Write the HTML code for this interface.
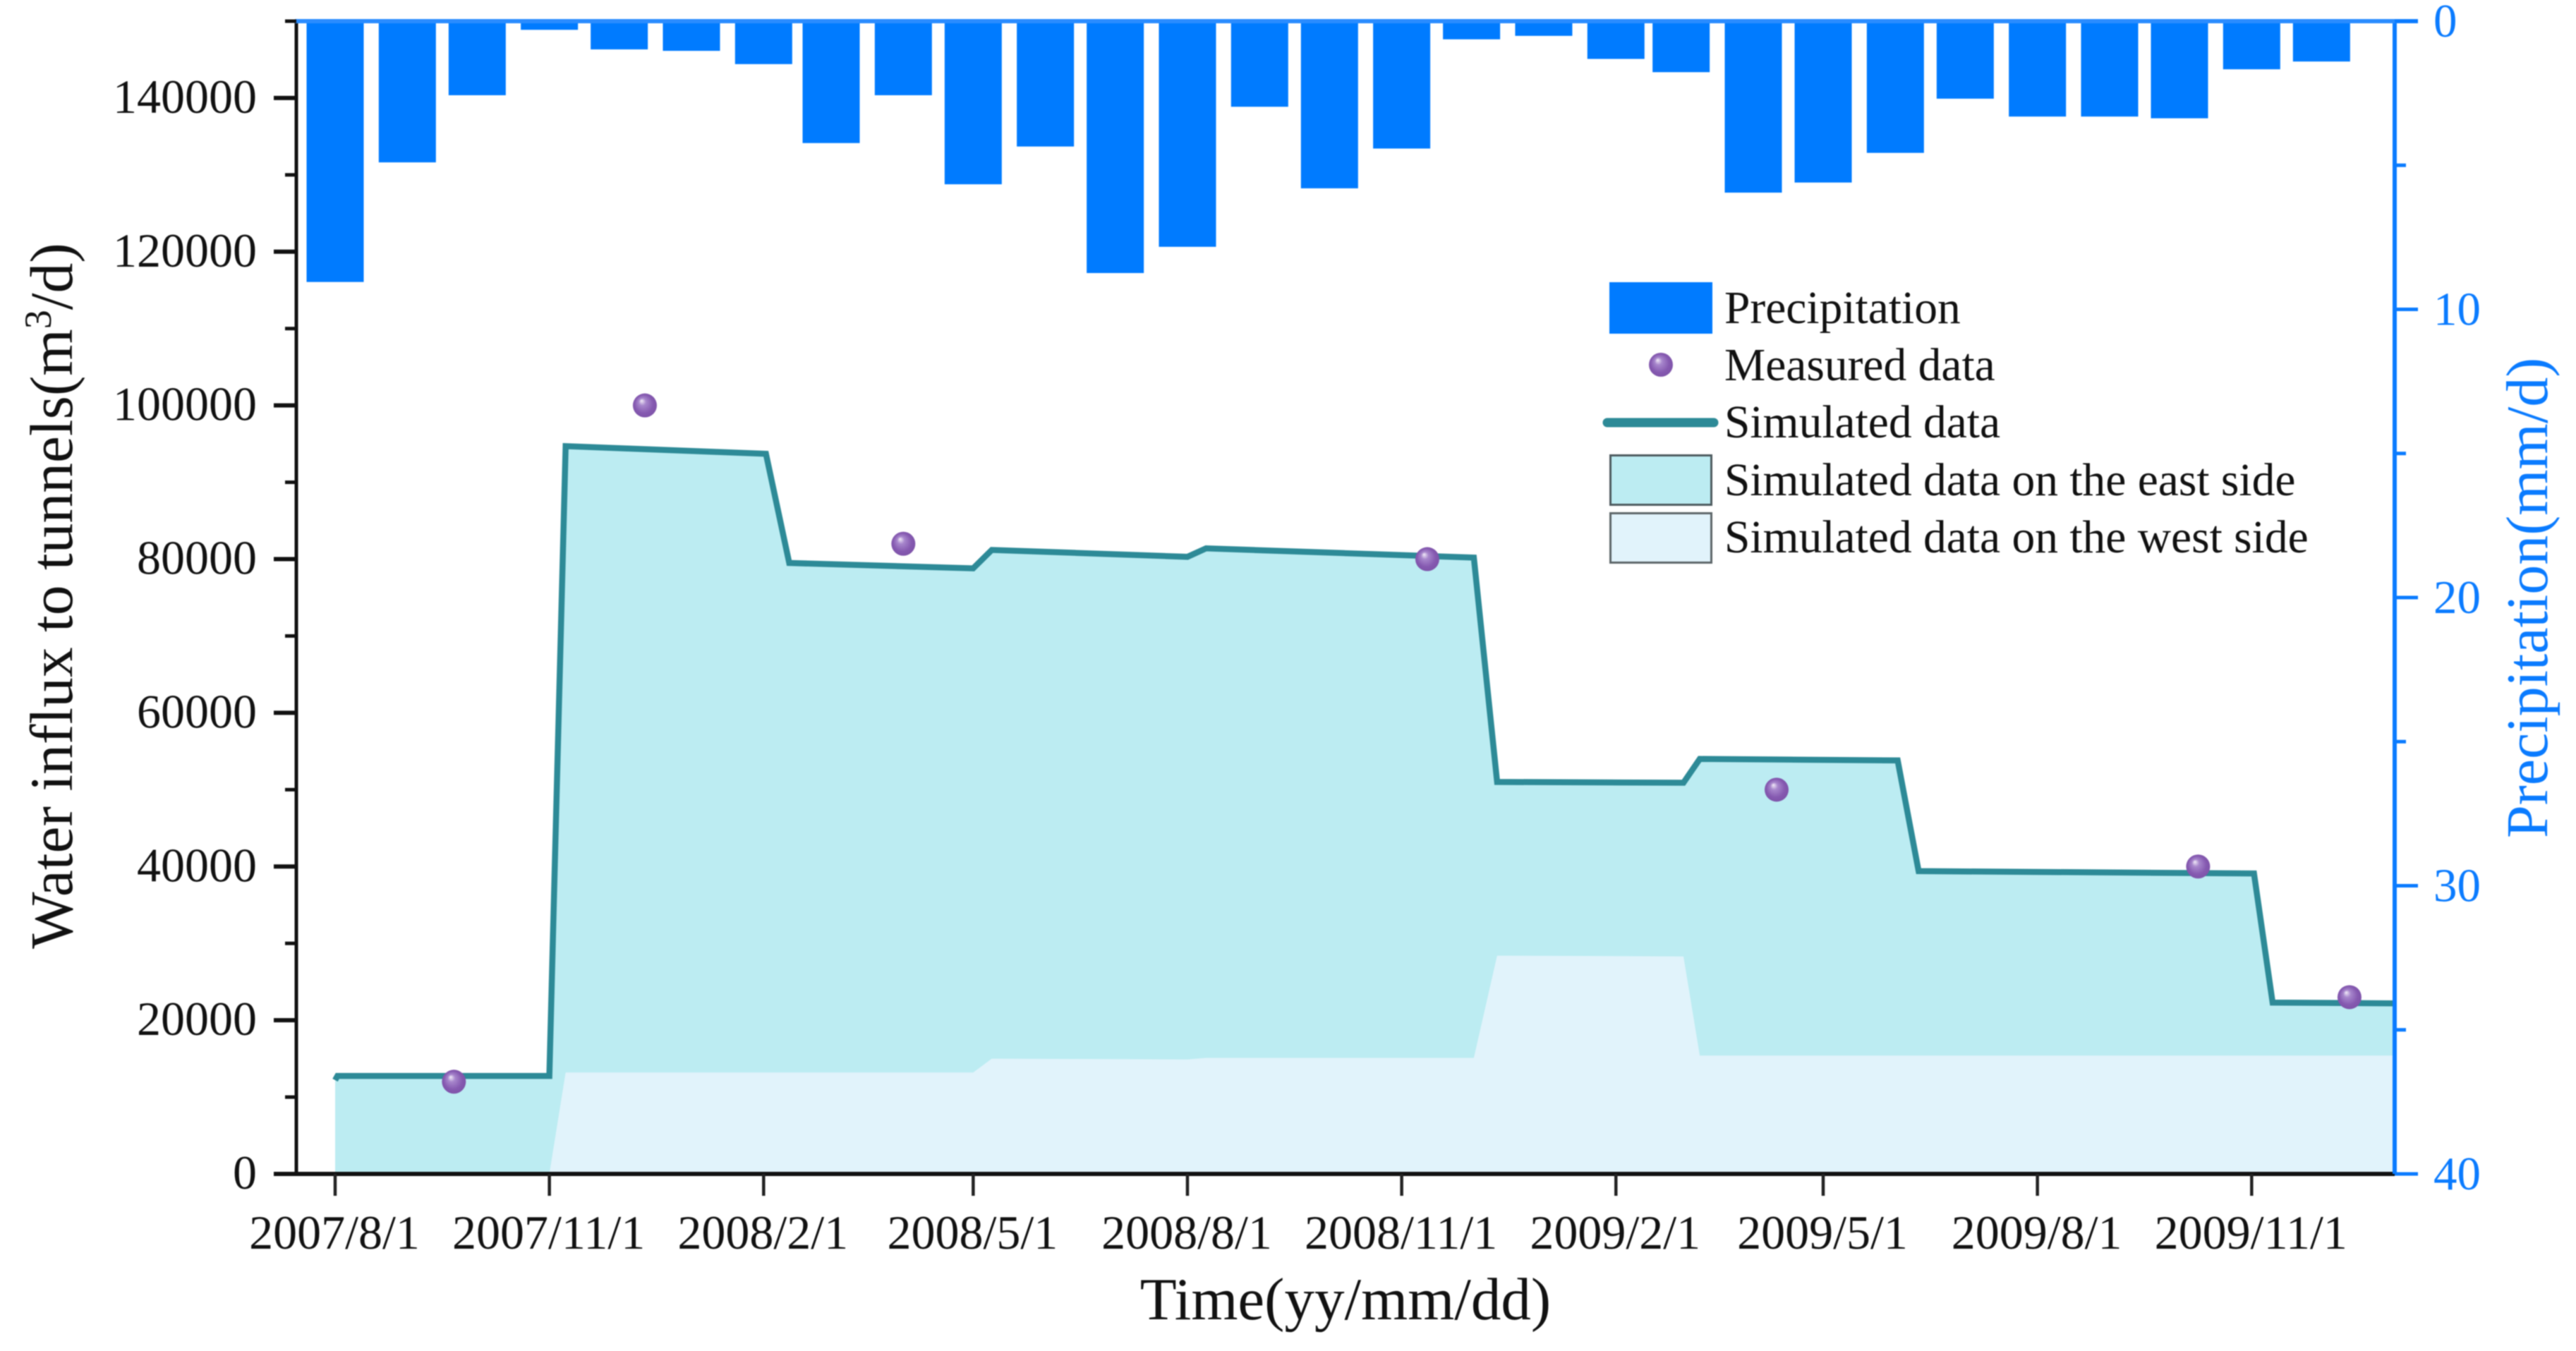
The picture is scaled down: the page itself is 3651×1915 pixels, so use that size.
<!DOCTYPE html>
<html lang="en">
<head>
<meta charset="utf-8">
<title>Water influx to tunnels and precipitation</title>
<style>
html,body{margin:0;padding:0;background:#fff;width:3651px;height:1915px;overflow:hidden}
svg{display:block;filter:blur(0.8px)}
text{font-family:"Liberation Serif",serif}
</style>
</head>
<body>
<svg id="chart" xmlns="http://www.w3.org/2000/svg" width="3651" height="1915" viewBox="0 0 3651 1915">
  <defs>
    <radialGradient id="ball" cx="0.5" cy="0.5" r="0.55" fx="0.36" fy="0.3">
      <stop offset="0" stop-color="#f2ecf8"/>
      <stop offset="0.28" stop-color="#a786cc"/>
      <stop offset="0.7" stop-color="#8559b0"/>
      <stop offset="1" stop-color="#7d52a8"/>
    </radialGradient>
  </defs>
  <g id="areas"></g>
  <g id="bars"></g>
  <g id="line"></g>
  <g id="axes"></g>
  <g id="dots"></g>

  <text x="1907" y="1870" font-size="85" text-anchor="middle" fill="#111">Time(yy/mm/dd)</text>
  <text transform="translate(102,1345) rotate(-90)" font-size="85.5" fill="#111">Water influx to tunnels(m<tspan font-size="54" dy="-30">3</tspan><tspan dy="30">/d)</tspan></text>
  <text transform="translate(3610,1188) rotate(-90)" font-size="84" fill="#0a7bff">Precipitation(mm/d)</text>

  <g>
    <rect x="2281" y="400" width="146" height="73" fill="#007bff"/>
    <text x="2444" y="458" font-size="65.5" fill="#111">Precipitation</text>
    <circle cx="2354" cy="517" r="17" fill="url(#ball)"/>
    <text x="2444" y="539" font-size="65.5" fill="#111">Measured data</text>
    <line x1="2278" y1="599" x2="2429" y2="599" stroke="#2d8a97" stroke-width="13" stroke-linecap="round"/>
    <text x="2444" y="620" font-size="65.5" fill="#111">Simulated data</text>
    <rect x="2282.5" y="645.5" width="143" height="70" fill="#bcecf2" stroke="#4d5a5e" stroke-width="3"/>
    <text x="2444" y="702" font-size="65.5" fill="#111">Simulated data on the east side</text>
    <rect x="2282.5" y="727.5" width="143" height="70" fill="#e1f3fb" stroke="#5d6669" stroke-width="3"/>
    <text x="2444" y="783" font-size="65.5" fill="#111">Simulated data on the west side</text>
  </g>
</svg>
<script>
// ---- chart data ----
const barDates = ['2007/8/1','2007/9/1','2007/10/1','2007/11/1','2007/12/1','2008/1/1','2008/2/1','2008/3/1','2008/4/1','2008/5/1','2008/6/1','2008/7/1','2008/8/1','2008/9/1','2008/10/1','2008/11/1','2008/12/1','2009/1/1','2009/2/1','2009/3/1','2009/4/1','2009/5/1','2009/6/1','2009/7/1','2009/8/1','2009/9/1','2009/10/1','2009/11/1','2009/12/1'];
const precipitation = [9.05,4.9,2.57,0.3,0.98,1.03,1.49,4.23,2.57,5.66,4.35,8.74,7.83,2.97,5.8,4.42,0.63,0.51,1.31,1.77,5.95,5.6,4.57,2.69,3.31,3.31,3.37,1.67,1.4];

const simDates = ['2007/8/1','2007/8/2','2007/11/1','2007/11/8','2008/2/2','2008/2/12','2008/5/1','2008/5/9','2008/8/1','2008/8/9','2008/12/2','2008/12/12','2009/3/2','2009/3/9','2009/6/2','2009/6/11','2009/11/2','2009/11/10','2010/1/1'];
const simulated = [12200,12750,12750,94700,93700,79500,78800,81200,80300,81400,80200,51000,50900,54000,53800,39400,39100,22300,22200];

const westDates = ['2007/11/1','2007/11/8','2008/5/1','2008/5/9','2008/8/1','2008/8/9','2008/12/2','2008/12/12','2009/3/2','2009/3/9','2010/1/1'];
const westSide = [0,13200,13200,15000,14900,15100,15100,28400,28300,15400,15400];

const measuredDates = ['2007/9/21','2007/12/12','2008/4/1','2008/11/12','2009/4/11','2009/10/9','2009/12/13'];
const measured = [12000,100000,82000,80000,50000,40000,23000];

const xTickLabels = ['2007/8/1','2007/11/1','2008/2/1','2008/5/1','2008/8/1','2008/11/1','2009/2/1','2009/5/1','2009/8/1','2009/11/1'];
const leftMajorTicks = [0,20000,40000,60000,80000,100000,120000,140000];
const leftMinorTicks = [10000,30000,50000,70000,90000,110000,130000,150000];
const rightMajorTicks = [0,10,20,30,40];
const rightMinorTicks = [5,15,25,35];

// ---- axis functions ----
const NS = 'http://www.w3.org/2000/svg';
const START = Date.UTC(2007, 7, 1);
const DAY = 86400000;
const AX = {left: 420, right: 3394, top: 30, bottom: 1664, x0: 475, pxPerDay: 3.3005};

function xScale(d) {
  const p = d.split('/').map(Number);
  return AX.x0 + (Date.UTC(p[0], p[1] - 1, p[2]) - START) / DAY * AX.pxPerDay;
}
function yLeft(v) { return AX.bottom - v / 150000 * (AX.bottom - AX.top); }
function yRight(v) { return AX.top + v / 40 * (AX.bottom - AX.top); }

function make(tag, parent, attrs, text) {
  const el = document.createElementNS(NS, tag);
  for (const k in attrs) el.setAttribute(k, attrs[k]);
  if (text !== undefined) el.textContent = text;
  document.getElementById(parent).appendChild(el);
  return el;
}

// ---- filled areas ----
const eastPoints = simDates.map((d, i) => xScale(d).toFixed(1) + ',' + yLeft(simulated[i]).toFixed(1));
const eastArea = make('polygon', 'areas', {
  points: xScale(simDates[0]).toFixed(1) + ',' + AX.bottom + ' ' + eastPoints.join(' ') + ' ' + xScale(simDates[simDates.length - 1]).toFixed(1) + ',' + AX.bottom,
  fill: '#bcecf2'
});



const westPoints = westDates.map((d, i) => xScale(d).toFixed(1) + ',' + yLeft(westSide[i]).toFixed(1));
const westArea = make('polygon', 'areas', {
  points: westPoints.join(' ') + ' ' + xScale(westDates[westDates.length - 1]).toFixed(1) + ',' + AX.bottom,
  fill: '#e1f3fb'
});



// ---- precipitation bars ----
precipitation.forEach((v, i) => {
  const bar = make('rect', 'bars', {
    x: xScale(barDates[i]) - 40.5,
    y: yRight(0),
    width: 81,
    height: yRight(v) - yRight(0),
    fill: '#007bff'
  });
  
  
});

// ---- simulated line ----
const simLine = make('polyline', 'line', {
  points: eastPoints.join(' '),
  fill: 'none',
  stroke: '#2d8a97',
  'stroke-width': 8.5,
  'stroke-linejoin': 'miter'
});



// ---- axes ----
const leftAxisLine = make('line', 'axes', {x1: AX.left, y1: AX.top - 2, x2: AX.left, y2: AX.bottom, stroke: '#111', 'stroke-width': 5});



const bottomAxisLine = make('line', 'axes', {x1: 388, y1: AX.bottom, x2: AX.right, y2: AX.bottom, stroke: '#111', 'stroke-width': 6});



const rightAxisLine = make('line', 'axes', {x1: AX.right, y1: AX.top, x2: AX.right, y2: AX.bottom, stroke: '#0a7bff', 'stroke-width': 6});



const topAxisLine = make('line', 'axes', {x1: AX.left - 2, y1: AX.top, x2: 3427, y2: AX.top, stroke: '#2a8cff', 'stroke-width': 6});



leftMajorTicks.forEach(v => {
  const tick = make('line', 'axes', {x1: 388, y1: yLeft(v), x2: AX.left, y2: yLeft(v), stroke: '#111', 'stroke-width': 6});
  
  
  const label = make('text', 'axes', {x: 364, y: yLeft(v) + 21, 'font-size': 68, 'text-anchor': 'end', fill: '#111'}, String(v));
  
  
});
leftMinorTicks.forEach(v => {
  const tick = make('line', 'axes', {x1: 404, y1: yLeft(v), x2: AX.left, y2: yLeft(v), stroke: '#111', 'stroke-width': 5});
  
  
});
xTickLabels.forEach(d => {
  const tick = make('line', 'axes', {x1: xScale(d), y1: AX.bottom, x2: xScale(d), y2: AX.bottom + 31, stroke: '#222', 'stroke-width': 4.5});
  
  
  const label = make('text', 'axes', {x: xScale(d) - 1, y: 1770, 'font-size': 68, 'text-anchor': 'middle', fill: '#111'}, d);
  
  
});
rightMajorTicks.forEach(v => {
  const tick = make('line', 'axes', {x1: AX.right, y1: yRight(v), x2: 3427, y2: yRight(v), stroke: '#0a7bff', 'stroke-width': 5});
  
  
  const label = make('text', 'axes', {x: 3449, y: yRight(v) + 22, 'font-size': 67, fill: '#0a7bff'}, String(v));
  
  
});
rightMinorTicks.forEach(v => {
  const tick = make('line', 'axes', {x1: AX.right, y1: yRight(v), x2: 3410, y2: yRight(v), stroke: '#0a7bff', 'stroke-width': 5});
  
  
});

// ---- measured points ----
measured.forEach((v, i) => {
  const dot = make('circle', 'dots', {cx: xScale(measuredDates[i]), cy: yLeft(v), r: 17, fill: 'url(#ball)'});
  
  
});
</script>
</body>
</html>
